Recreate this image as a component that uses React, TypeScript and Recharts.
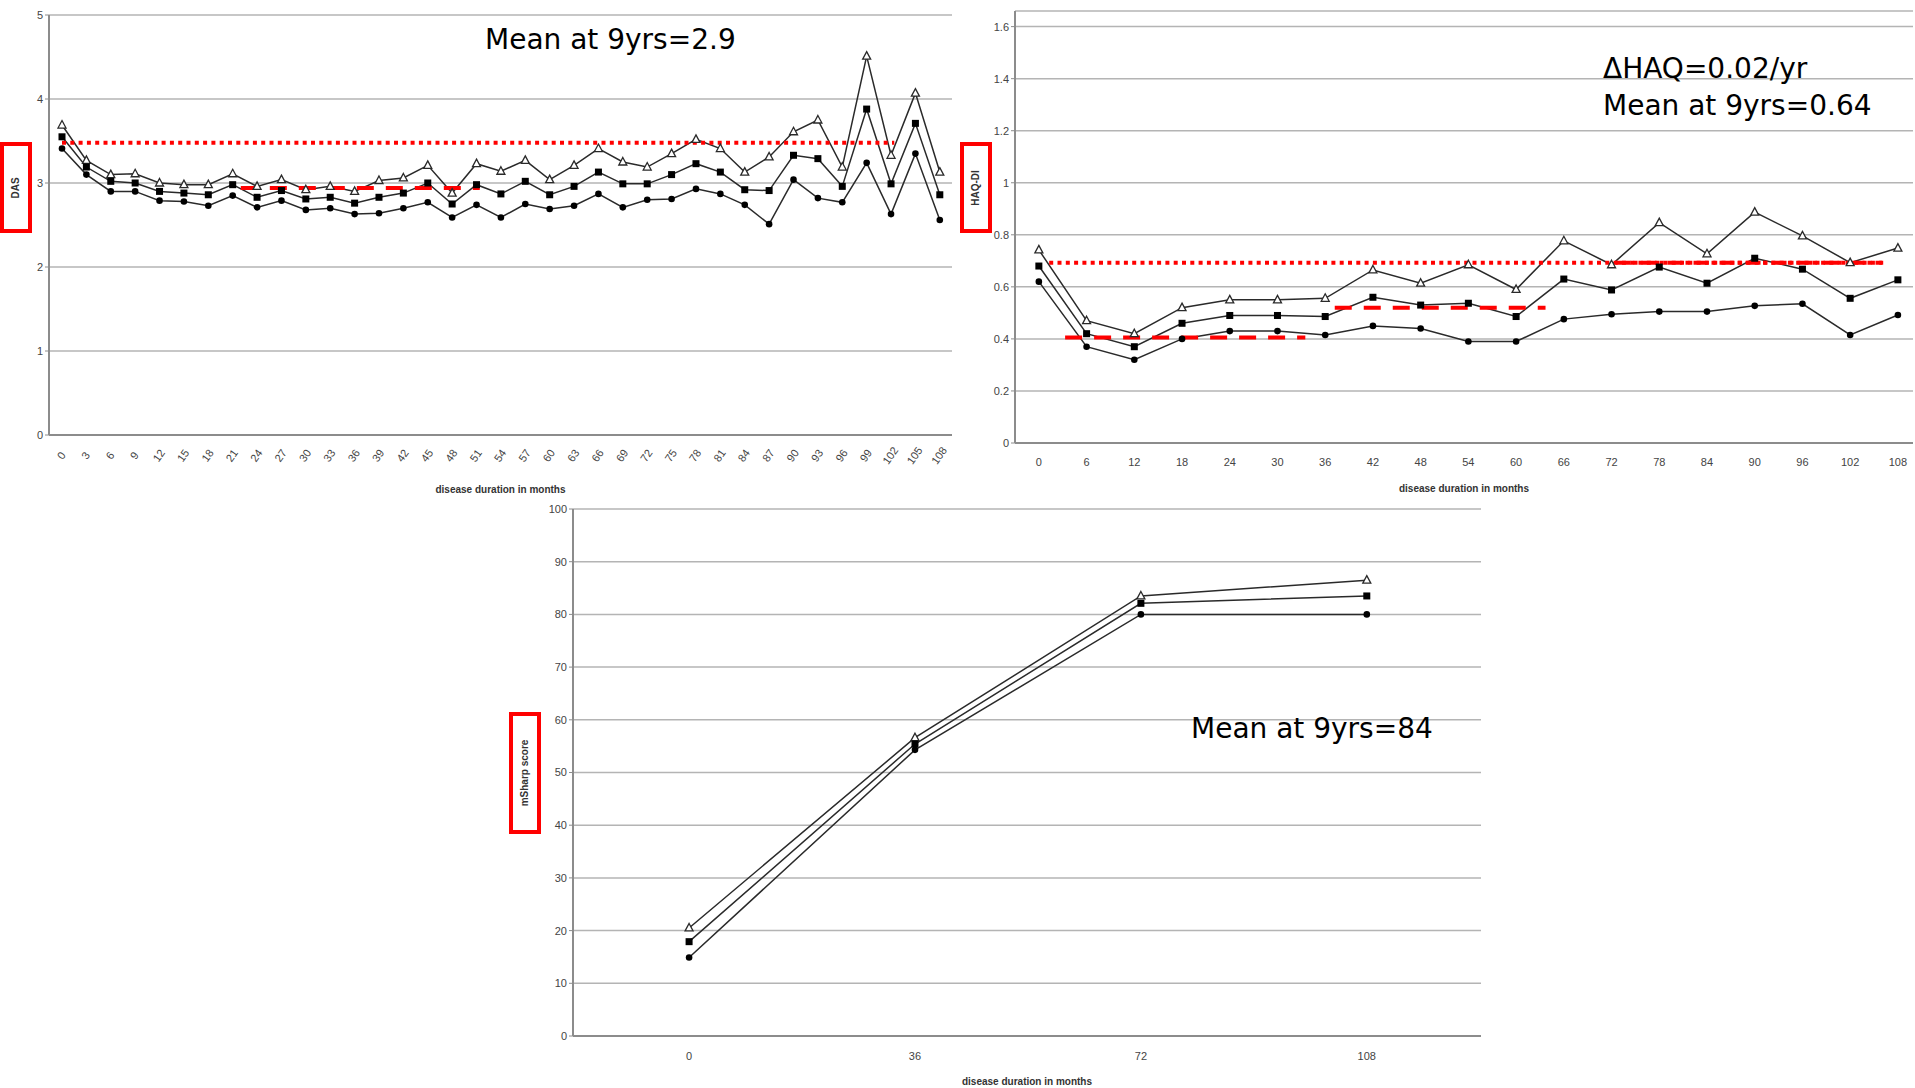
import React from "react";
import { CartesianGrid, Line, LineChart, ReferenceLine, XAxis, YAxis } from "recharts";

// DAS over disease duration (months), upper CI / mean / lower CI
const dasMonths = [0, 3, 6, 9, 12, 15, 18, 21, 24, 27, 30, 33, 36, 39, 42, 45, 48, 51, 54, 57, 60, 63, 66, 69, 72, 75, 78, 81, 84, 87, 90, 93, 96, 99, 102, 105, 108];
const dasUpper = [3.69, 3.27, 3.1, 3.11, 3.0, 2.98, 2.98, 3.11, 2.96, 3.04, 2.92, 2.96, 2.9, 3.03, 3.06, 3.21, 2.88, 3.23, 3.14, 3.27, 3.04, 3.21, 3.41, 3.25, 3.19, 3.35, 3.52, 3.41, 3.13, 3.31, 3.61, 3.75, 3.19, 4.51, 3.33, 4.07, 3.13];
const dasMean = [3.55, 3.19, 3.02, 3.0, 2.9, 2.88, 2.86, 2.98, 2.83, 2.91, 2.81, 2.83, 2.76, 2.83, 2.88, 3.0, 2.75, 2.98, 2.87, 3.02, 2.86, 2.96, 3.13, 2.99, 2.99, 3.1, 3.23, 3.13, 2.92, 2.91, 3.33, 3.29, 2.96, 3.88, 2.99, 3.71, 2.86];
const dasLower = [3.41, 3.1, 2.9, 2.9, 2.79, 2.78, 2.73, 2.85, 2.71, 2.79, 2.68, 2.7, 2.63, 2.64, 2.7, 2.77, 2.59, 2.74, 2.59, 2.75, 2.69, 2.73, 2.87, 2.71, 2.8, 2.81, 2.93, 2.87, 2.74, 2.51, 3.04, 2.82, 2.77, 3.24, 2.63, 3.35, 2.56];
const dasYTicks = [0, 1, 2, 3, 4, 5];

// HAQ-DI
const haqMonths = [0, 6, 12, 18, 24, 30, 36, 42, 48, 54, 60, 66, 72, 78, 84, 90, 96, 102, 108];
const haqUpper = [0.742, 0.47, 0.42, 0.52, 0.55, 0.55, 0.556, 0.665, 0.614, 0.685, 0.59, 0.777, 0.685, 0.847, 0.727, 0.887, 0.796, 0.693, 0.749];
const haqMean = [0.68, 0.42, 0.37, 0.46, 0.49, 0.49, 0.486, 0.56, 0.53, 0.537, 0.486, 0.63, 0.588, 0.676, 0.614, 0.71, 0.668, 0.556, 0.627];
const haqLower = [0.62, 0.37, 0.32, 0.4, 0.43, 0.43, 0.415, 0.45, 0.44, 0.39, 0.39, 0.476, 0.495, 0.505, 0.505, 0.527, 0.535, 0.415, 0.492];
const haqYTicks = [0, 0.2, 0.4, 0.6, 0.8, 1, 1.2, 1.4, 1.6];

// mSharp score
const sharpMonths = [0, 36, 72, 108];
const sharpUpper = [20.5, 56.6, 83.5, 86.5];
const sharpMean = [17.9, 55.4, 82.1, 83.5];
const sharpLower = [14.9, 54.3, 80.0, 80.0];
const sharpYTicks = [0, 10, 20, 30, 40, 50, 60, 70, 80, 90, 100];

// red annotation lines: [level, from month, to month]
const dasOverall = [3.48, 0, 102.4];
const dasEarly = [2.94, 22, 51.4];
const haqOverall = [0.693, 1.3, 106.4];
const haqLate = [0.693, 72.5, 106];
const haqEarly = [0.405, 3.3, 33.5];
const haqMid = [0.52, 37.2, 63.7];

const rows = (m: number[], u: number[], a: number[], l: number[]) =>
  m.map((month, i) => ({ month, upper: u[i], mean: a[i], lower: l[i] }));

const dasData = rows(dasMonths, dasUpper, dasMean, dasLower);
const haqData = rows(haqMonths, haqUpper, haqMean, haqLower);
const sharpData = rows(sharpMonths, sharpUpper, sharpMean, sharpLower);

const INK = "#2a2a2a";
const GRID = "#b4b4b4";
const AXIS = "#8c8c8c";
const RED = "#ff0000";
const tickFont = { fontSize: 11, fill: "#444", fontFamily: "Liberation Sans, Arial, sans-serif" };
const annot = { fontFamily: "Comic Sans MS, DejaVu Sans, sans-serif", fontSize: 28, fill: "#000" };

const Tri = (p: any) => {
  if (p.cx == null || p.cy == null) return null;
  const { cx, cy } = p;
  return <path key={`t${p.index}`} d={`M${cx},${cy - 4.5}L${cx + 4},${cy + 3}L${cx - 4},${cy + 3}Z`} fill="#fff" stroke={INK} strokeWidth={1.3} />;
};
const Sq = (p: any) => {
  if (p.cx == null || p.cy == null) return null;
  return <rect key={`s${p.index}`} x={p.cx - 3.5} y={p.cy - 3.5} width={7} height={7} fill="#000" />;
};
const Dot = (p: any) => {
  if (p.cx == null || p.cy == null) return null;
  return <circle key={`c${p.index}`} cx={p.cx} cy={p.cy} r={3.3} fill="#000" />;
};

const DiagTick = (p: any) => (
  <text x={p.x} y={p.y + 13} transform={`rotate(-55 ${p.x} ${p.y + 13})`} textAnchor="middle" dominantBaseline="middle" {...tickFont} fontSize={11}>
    {p.payload.value}
  </text>
);

const seg = (r: number[]) => [
  { x: r[1], y: r[0] },
  { x: r[2], y: r[0] },
];

function Series() {
  return [
    <Line key="u" dataKey="upper" stroke={INK} strokeWidth={1.5} dot={Tri} isAnimationActive={false} />,
    <Line key="m" dataKey="mean" stroke={INK} strokeWidth={1.5} dot={Sq} isAnimationActive={false} />,
    <Line key="l" dataKey="lower" stroke={INK} strokeWidth={1.5} dot={Dot} isAnimationActive={false} />,
  ];
}

const xLabel = (offset: number) => ({
  value: "disease duration in months",
  position: "insideBottom" as const,
  offset,
  style: { fontSize: 10, fontWeight: 700, fill: "#333", fontFamily: "Liberation Sans, Arial, sans-serif" },
});

export default function App() {
  return (
    <div style={{ position: "absolute", left: 0, top: 0, width: 1915, height: 1088, background: "#fff", overflow: "hidden" }}>
      <div style={{ position: "absolute", left: 0, top: 0 }}>
        <LineChart width={960} height={500} data={dasData} margin={{ top: 15, right: 8, left: 0, bottom: 0 }}>
          <CartesianGrid vertical={false} stroke={GRID} strokeWidth={1.5} />
          <XAxis dataKey="month" type="number" domain={[-1.6, 109.5]} ticks={dasMonths} interval={0} height={65} tick={DiagTick} tickLine={false} axisLine={{ stroke: AXIS, strokeWidth: 2 }} label={xLabel(7)} />
          <YAxis domain={[0, 5]} ticks={dasYTicks} width={49} tick={tickFont} tickSize={4} axisLine={{ stroke: AXIS, strokeWidth: 2 }} tickLine={{ stroke: AXIS }} />
          <YAxis yAxisId="frame" orientation="right" width={0} tick={false} tickLine={false} axisLine={{ stroke: "#c8c8c8", strokeWidth: 2 }} />
          {Series()}
          <ReferenceLine segment={seg(dasOverall)} stroke={RED} strokeWidth={4} strokeDasharray="4 4.3" />
          <ReferenceLine segment={seg(dasEarly)} stroke={RED} strokeWidth={4} strokeDasharray="17 12" />
        </LineChart>
      </div>

      <div style={{ position: "absolute", left: 960, top: 0 }}>
        <LineChart width={955} height={500} data={haqData} margin={{ top: 11, right: 2, left: 0, bottom: 0 }}>
          <CartesianGrid vertical={false} stroke={GRID} strokeWidth={1.5} />
          <XAxis dataKey="month" type="number" domain={[-3, 109.9]} ticks={haqMonths} interval={0} height={57} tick={tickFont} tickLine={false} tickMargin={9} axisLine={{ stroke: AXIS, strokeWidth: 2 }} label={xLabel(8)} />
          <YAxis domain={[0, 1.66]} ticks={haqYTicks} width={55} tick={tickFont} tickSize={4} axisLine={{ stroke: AXIS, strokeWidth: 2 }} tickLine={{ stroke: AXIS }} />
          <YAxis yAxisId="frame" orientation="right" width={0} tick={false} tickLine={false} axisLine={{ stroke: "#c8c8c8", strokeWidth: 2 }} />
          {Series()}
          <ReferenceLine segment={seg(haqOverall)} stroke={RED} strokeWidth={4} strokeDasharray="4 4.3" />
          <ReferenceLine segment={seg(haqLate)} stroke={RED} strokeWidth={4} strokeDasharray="15 3 4 4" />
          <ReferenceLine segment={seg(haqEarly)} stroke={RED} strokeWidth={4} strokeDasharray="17 12" />
          <ReferenceLine segment={seg(haqMid)} stroke={RED} strokeWidth={4} strokeDasharray="17 12" />
        </LineChart>
      </div>

      <div style={{ position: "absolute", left: 500, top: 490 }}>
        <LineChart width={1000} height={598} data={sharpData} margin={{ top: 19, right: 19, left: 0, bottom: 0 }}>
          <CartesianGrid vertical={false} stroke={GRID} strokeWidth={1.5} />
          <XAxis dataKey="month" type="number" domain={[-18.5, 126.2]} ticks={sharpMonths} interval={0} height={52} tick={tickFont} tickLine={false} tickMargin={10} axisLine={{ stroke: AXIS, strokeWidth: 2 }} label={xLabel(3)} />
          <YAxis domain={[0, 100]} ticks={sharpYTicks} width={73} tick={tickFont} tickSize={4} axisLine={{ stroke: AXIS, strokeWidth: 2 }} tickLine={{ stroke: AXIS }} />
          <YAxis yAxisId="frame" orientation="right" width={0} tick={false} tickLine={false} axisLine={{ stroke: AXIS, strokeWidth: 2 }} />
          {Series()}
        </LineChart>
      </div>

      <svg width={1915} height={1088} style={{ position: "absolute", left: 0, top: 0, pointerEvents: "none" }}>
        <text x={485} y={49} {...annot}>Mean at 9yrs=2.9</text>
        <text x={1603} y={78} {...annot}>ΔHAQ=0.02/yr</text>
        <text x={1603} y={115} {...annot}>Mean at 9yrs=0.64</text>
        <text x={1191} y={738} {...annot}>Mean at 9yrs=84</text>

        <rect x={2} y={144} width={28} height={87} fill="none" stroke={RED} strokeWidth={4} />
        <text transform="translate(16 188) rotate(-90)" textAnchor="middle" dominantBaseline="middle" fontSize={10} fontWeight={700} fontFamily="Liberation Sans, Arial, sans-serif" fill="#333">DAS</text>
        <rect x={962} y={144} width={28} height={87} fill="none" stroke={RED} strokeWidth={4} />
        <text transform="translate(976 188) rotate(-90)" textAnchor="middle" dominantBaseline="middle" fontSize={10} fontWeight={700} fontFamily="Liberation Sans, Arial, sans-serif" fill="#333">HAQ-DI</text>
        <rect x={511} y={714} width={28} height={118} fill="none" stroke={RED} strokeWidth={4} />
        <text transform="translate(525 773) rotate(-90)" textAnchor="middle" dominantBaseline="middle" fontSize={10} fontWeight={700} fontFamily="Liberation Sans, Arial, sans-serif" fill="#333">mSharp score</text>
      </svg>
    </div>
  );
}
